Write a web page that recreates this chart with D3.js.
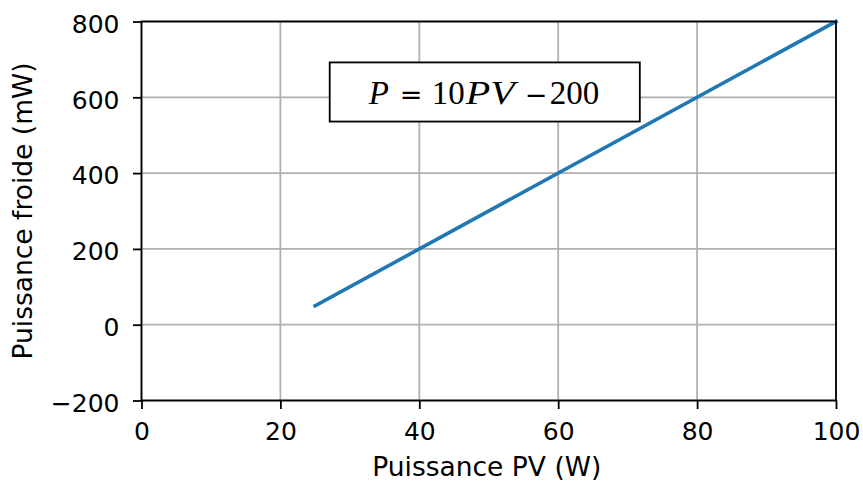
<!DOCTYPE html>
<html>
<head>
<meta charset="utf-8">
<script src="https://cdn.jsdelivr.net/npm/d3@7"></script>
<style>
  html, body { margin: 0; padding: 0; background: #fff; }
  svg { display: block; }
  text { font-family: "DejaVu Sans", sans-serif; fill: #000; }
</style>
</head>
<body>
<svg id="chart" width="863" height="482"></svg>
<script>
// Linear relation between PV power and cooling power
const pvPower = [25, 100];          // W
const coldPower = [50, 800];        // mW  (P = 10·PV − 200)
const xTicks = [0, 20, 40, 60, 80, 100];
const yTicks = [-200, 0, 200, 400, 600, 800];
const xLabel = "Puissance PV (W)";
const yLabel = "Puissance froide (mW)";

const W = 863, H = 482;
const m = { left: 141.5, right: 836, top: 21.5, bottom: 400.5 };
const tickFont = 25, labelFont = 26.5;

const svg = d3.select("#chart");

const x = d3.scaleLinear().domain([0, 100]).range([m.left, m.right]);
const y = d3.scaleLinear().domain([-200, 800]).range([m.bottom, m.top]);

// grid
const grid = svg.append("g").attr("stroke", "#b0b0b0").attr("stroke-width", 1.8);
grid.selectAll(".gx").data(xTicks).join("line")
  .attr("x1", d => x(d)).attr("x2", d => x(d))
  .attr("y1", m.top).attr("y2", m.bottom);
grid.selectAll(".gy").data(yTicks).join("line")
  .attr("y1", d => y(d)).attr("y2", d => y(d))
  .attr("x1", m.left).attr("x2", m.right);

// data line
svg.append("path")
  .datum(pvPower.map((v, i) => [v, coldPower[i]]))
  .attr("fill", "none")
  .attr("stroke", "#1f77b4")
  .attr("stroke-width", 3.6)
  .attr("stroke-linecap", "square")
  .attr("d", d3.line().x(d => x(d[0])).y(d => y(d[1])));

// axes
const fmt = d => d < 0 ? "\u2212" + Math.abs(d) : String(d);
const xAxis = svg.append("g")
  .attr("transform", `translate(0,${m.bottom})`)
  .call(d3.axisBottom(x).tickValues(xTicks).tickSize(8.5).tickFormat(fmt));
const yAxis = svg.append("g")
  .attr("transform", `translate(${m.left},0)`)
  .call(d3.axisLeft(y).tickValues(yTicks).tickSize(8.5).tickFormat(fmt));

[xAxis, yAxis].forEach(a => {
  a.select(".domain").remove();
  a.selectAll(".tick line").attr("stroke", "#000").attr("stroke-width", 1.8);
  a.selectAll(".tick text").attr("font-size", tickFont)
    .attr("font-family", "DejaVu Sans, sans-serif").attr("fill", "#000");
});
xAxis.selectAll(".tick text").attr("y", 39.5).attr("dy", 0);
yAxis.selectAll(".tick text").attr("x", -22).attr("y", 10.8).attr("dy", 0);

// frame
svg.append("rect")
  .attr("x", m.left).attr("y", m.top)
  .attr("width", m.right - m.left).attr("height", m.bottom - m.top)
  .attr("fill", "none").attr("stroke", "#000").attr("stroke-width", 1.8);

// axis titles
svg.append("text")
  .attr("x", (m.left + m.right) / 2 - 2).attr("y", 476)
  .attr("text-anchor", "middle").attr("font-size", labelFont)
  .text(xLabel);
svg.append("text")
  .attr("transform", `translate(32,${(m.top + m.bottom) / 2}) rotate(-90)`)
  .attr("text-anchor", "middle").attr("font-size", labelFont)
  .text(yLabel);

// equation box
const bx = x(27.1), by = y(692), bw = x(71.75) - x(27.1), bh = y(536) - y(692);
svg.append("rect")
  .attr("x", bx).attr("y", by).attr("width", bw).attr("height", bh)
  .attr("fill", "#fff").attr("stroke", "#000").attr("stroke-width", 1.8);

// equation pieces: [text, kind, offset from box left, set width or null]
// kind: "var" italic serif, "num" upright serif, "op" operator glyph
const eqParts = [
  ["P", "var", 39, null],
  ["=", "op", 70, null],
  ["10", "num", 102, null],
  ["PV", "var", 136, 49],
  ["\u2212", "op", 195, null],
  ["200", "num", 220, null]
];
const eq = svg.append("g").selectAll("text").data(eqParts).join("text")
  .attr("x", d => bx + d[2])
  .attr("y", by + 42)
  .attr("font-size", d => d[1] === "op" ? 27 : 33)
  .attr("font-style", d => d[1] === "var" ? "italic" : "normal")
  .style("font-family", d => d[1] === "op"
    ? "'DejaVu Sans', sans-serif"
    : "'Liberation Serif', 'DejaVu Serif', serif")
  .text(d => d[0]);
eq.filter(d => d[3] != null)
  .attr("textLength", d => d[3])
  .attr("lengthAdjust", "spacingAndGlyphs");
</script>
</body>
</html>
